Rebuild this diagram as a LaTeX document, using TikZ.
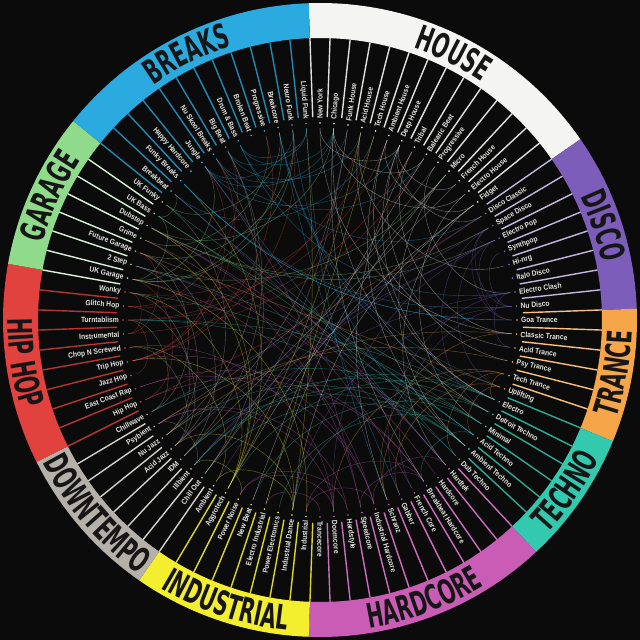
\documentclass[tikz,border=0pt]{standalone}
\usepackage{fontspec}
\setmainfont{Liberation Sans}
\newfontfamily\labfont[FakeStretch=0.88]{Liberation Sans}
\newfontfamily\catfont[FakeStretch=0.58]{DejaVu Sans}
\usetikzlibrary{decorations.text}
\definecolor{house}{HTML}{F4F4F2}
\definecolor{disco}{HTML}{7D5DBA}
\definecolor{trance}{HTML}{F6A548}
\definecolor{techno}{HTML}{33C9AE}
\definecolor{hardcore}{HTML}{C95DB6}
\definecolor{industrial}{HTML}{F3EE2E}
\definecolor{downtempo}{HTML}{B5B0A8}
\definecolor{hiphop}{HTML}{E2423E}
\definecolor{garage}{HTML}{90DA8C}
\definecolor{breaks}{HTML}{2AAADF}
\definecolor{bg}{HTML}{0B0B0B}
\definecolor{labtext}{HTML}{E4E4E0}
\definecolor{catink}{HTML}{161616}
\colorlet{Lhouse}{house!92!black}
\colorlet{Ldisco}{disco!45!white}
\colorlet{Ltrance}{trance!70!white}
\colorlet{Ltechno}{techno!85!black}
\colorlet{Lhardcore}{hardcore!90!white}
\colorlet{Lindustrial}{industrial!90!black}
\colorlet{Ldowntempo}{downtempo!60!white}
\colorlet{Lhiphop}{hiphop!80!black}
\colorlet{Lgarage}{garage!35!white}
\colorlet{Lbreaks}{breaks!80!black}
\begin{document}
\begin{tikzpicture}[x=1pt,y=1pt,
  lab/.style={font=\labfont\bfseries\fontsize{7.6}{8}\selectfont, text=labtext, inner sep=0pt},
  sepline/.style={line width=1.4pt},
  chord/.style={line width=0.4pt, opacity=0.45},
  catpath/.style={decorate, decoration={text along path, text color=catink, text align=center}}]
\fill[bg] (-320,-320) rectangle (320,320);
\useasboundingbox (-320,-320) rectangle (320,320);
% coloured ring
\foreach \cat/\ks/\ke in {house/0/13, disco/14/21, trance/22/27, techno/28/33, hardcore/34/44, industrial/45/52, downtempo/53/59, hiphop/60/68, garage/69/75, breaks/76/87} {
  \pgfmathsetmacro{\aS}{90-(\ks-0.5)*4.0909091}
  \pgfmathsetmacro{\aE}{90-(\ke+0.5)*4.0909091}
  \fill[fill=\cat] (\aS:282pt) arc[start angle=\aS, end angle=\aE, radius=282pt] -- (\aE:317pt) arc[start angle=\aE, end angle=\aS, radius=317pt] -- cycle;
}
% category names
\path[catpath, decoration={text={|\catfont\bfseries\fontsize{34}{34}\selectfont|HOUSE}}] (92.05:288pt) arc[start angle=92.05, end angle=34.77, radius=288pt];
\path[catpath, decoration={text={|\catfont\bfseries\fontsize{34}{34}\selectfont|DISCO}}] (34.77:288pt) arc[start angle=34.77, end angle=2.05, radius=288pt];
\path[catpath, decoration={text={|\catfont\bfseries\fontsize{34}{34}\selectfont|TRANCE}}] (-22.5:312pt) arc[start angle=-22.5, end angle=2.05, radius=312pt];
\path[catpath, decoration={text={|\catfont\bfseries\fontsize{34}{34}\selectfont|TECHNO}}] (-47.05:312pt) arc[start angle=-47.05, end angle=-22.5, radius=312pt];
\path[catpath, decoration={text={|\catfont\bfseries\fontsize{34}{34}\selectfont|HARDCORE}}] (-92.05:312pt) arc[start angle=-92.05, end angle=-47.05, radius=312pt];
\path[catpath, decoration={text={|\catfont\bfseries\fontsize{34}{34}\selectfont|INDUSTRIAL}}] (-124.77:312pt) arc[start angle=-124.77, end angle=-92.05, radius=312pt];
\path[catpath, decoration={text={|\catfont\bfseries\fontsize{34}{34}\selectfont|DOWNTEMPO}}] (-153.41:312pt) arc[start angle=-153.41, end angle=-124.77, radius=312pt];
\path[catpath, decoration={text={|\catfont\bfseries\fontsize{34}{34}\selectfont|HIP HOP}}] (-190.23:312pt) arc[start angle=-190.23, end angle=-153.41, radius=312pt];
\path[catpath, decoration={text={|\catfont\bfseries\fontsize{34}{34}\selectfont|GARAGE}}] (-190.23:288pt) arc[start angle=-190.23, end angle=-218.86, radius=288pt];
\path[catpath, decoration={text={|\catfont\bfseries\fontsize{34}{34}\selectfont|BREAKS}}] (-218.86:288pt) arc[start angle=-218.86, end angle=-267.95, radius=288pt];
% genre labels, separators, anchor points
\foreach \nm/\ct [count=\n from 0] in {New York/house, Chicago/house, Funk House/house, Acid House/house, Tech House/house, Ambient House/house, Deep House/house, Tribal/house, Balearic Beat/house, Progressive/house, Micro/house, French House/house, Electro House/house, Fidget/house,
 Disco Classic/disco, Space Disco/disco, Electro Pop/disco, Synthpop/disco, Hi-nrg/disco, Italo Disco/disco, Electro Clash/disco, Nu Disco/disco,
 Goa Trance/trance, Classic Trance/trance, Acid Trance/trance, Psy Trance/trance, Tech Trance/trance, Uplifting/trance,
 Electro/techno, Detroit Techno/techno, Minimal/techno, Acid Techno/techno, Ambient Techno/techno, Dub Techno/techno,
 Hardtek/hardcore, Hardcore/hardcore, Breakbeat Hardcore/hardcore, French Core/hardcore, Gabber/hardcore, Schranz/hardcore, Industrial Hardcore/hardcore, Speedcore/hardcore, Hardstyle/hardcore, Doomcore/hardcore, Trancecore/hardcore,
 Industrial/industrial, Industrial Dance/industrial, Power Electronics/industrial, Electro Industrial/industrial, New Beat/industrial, Power Noise/industrial, Aggrotech/industrial, Ambient/industrial,
 Chill Out/downtempo, Illbient/downtempo, IDM/downtempo, Acid Jazz/downtempo, Nu Jazz/downtempo, Psybient/downtempo, Chillwave/downtempo,
 Hip Hop/hiphop, East Coast Rap/hiphop, Jazz Hop/hiphop, Trip Hop/hiphop, Chop N Screwed/hiphop, Instrumental/hiphop, Turntablism/hiphop, Glitch Hop/hiphop, Wonky/hiphop,
 UK Garage/garage, 2 Step/garage, Future Garage/garage, Grime/garage, Dubstep/garage, UK Bass/garage, UK Funky/garage,
 Breakbeat/breaks, Funky Breaks/breaks, Happy Hardcore/breaks, Jungle/breaks, Nu Skool Breaks/breaks, Big Beat/breaks, Drum \& Bass/breaks, Broken Beat/breaks, Progressive/breaks, Breakcore/breaks, Neuro Funk/breaks, Liquid Funk/breaks} {
  \pgfmathsetmacro{\a}{90-\n*4.0909091}
  \pgfmathsetmacro{\b}{\a+2.045}
  \pgfmathsetmacro{\r}{\a+180}
  \expandafter\xdef\csname gcat\n\endcsname{\ct}
  \coordinate (g\n) at (\a:192pt);
  \draw[sepline, color=L\ct] (\b:203pt) -- (\b:282pt);
  \fill[fill=\ct] (\a:197pt) circle (0.9pt);
  \ifnum\n<45
    \node[lab, anchor=west, rotate=\a] (t\n) at (\a:201pt) {\nm};
  \else
    \node[lab, anchor=east, rotate=\r] (t\n) at (\a:201pt) {\nm};
  \fi
}
% connecting curves
\pgfmathsetseed{2024}
\foreach \k in {1,...,170} {
  \pgfmathtruncatemacro{\ci}{random(0,87)}
  \pgfmathtruncatemacro{\cd}{random(2,44)}
  \pgfmathtruncatemacro{\cj}{mod(\ci+\cd,88)}
  \pgfmathsetmacro{\ai}{270-\ci*4.0909091}
  \pgfmathsetmacro{\aj}{270-\cj*4.0909091}
  \edef\cc{\csname gcat\ci\endcsname}
  \draw[chord, draw=\cc] (g\ci) to[out=\ai, in=\aj] (g\cj);
}
\end{tikzpicture}
\end{document}
